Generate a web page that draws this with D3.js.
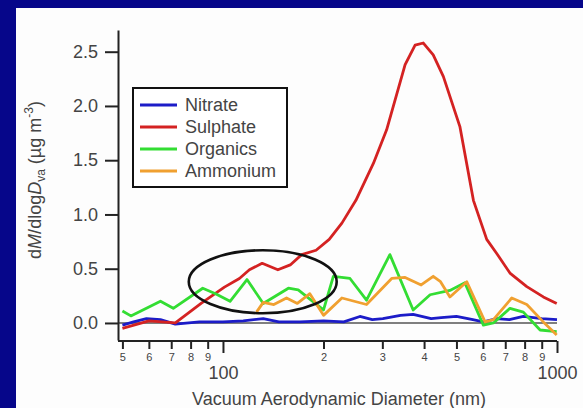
<!DOCTYPE html>
<html>
<head>
<meta charset="utf-8">
<script src="https://cdn.jsdelivr.net/npm/d3@7"></script>
<style>
  body { margin: 0; background: #fff; }
  svg { display: block; font-family: "Liberation Sans", Arial, sans-serif; }
</style>
</head>
<body>
<svg width="583" height="408"></svg>
<script>
// series: [diameter nm, dM/dlogDva]
let nitrate = [
  [50, -0.02], [54, 0.01], [59, 0.04], [65, 0.03], [72, -0.01], [85, 0.01],
  [100, 0.01], [115, 0.02], [132, 0.04], [147, 0.01], [170, 0.01], [200, 0.02],
  [230, 0.01], [257, 0.06], [280, 0.03], [301, 0.04], [340, 0.07], [371, 0.08],
  [420, 0.04], [450, 0.05], [500, 0.06], [560, 0.03], [602, 0.01], [660, 0.04],
  [720, 0.03], [793, 0.06], [900, 0.04], [1000, 0.03]
];
let sulphate = [
  [50, -0.05], [60, 0.02], [72, 0.0], [86, 0.18], [101, 0.33], [112, 0.41],
  [120, 0.49], [131, 0.55], [146, 0.49], [159, 0.535], [172, 0.63], [190, 0.67],
  [208, 0.77], [227, 0.92], [250, 1.13], [282, 1.47], [309, 1.78], [351, 2.38],
  [376, 2.56], [398, 2.58], [426, 2.47], [457, 2.27], [512, 1.81], [562, 1.13],
  [616, 0.77], [660, 0.64], [723, 0.46], [812, 0.335], [910, 0.24], [998, 0.18]
];
let organics = [
  [50, 0.11], [53, 0.065], [59, 0.135], [65, 0.2], [71, 0.135], [87, 0.32],
  [95, 0.27], [105, 0.2], [118, 0.4], [132, 0.18], [157, 0.32], [168, 0.305],
  [182, 0.22], [200, 0.12], [214, 0.43], [240, 0.41], [269, 0.21], [316, 0.63],
  [371, 0.12], [417, 0.26], [478, 0.3], [530, 0.37], [602, -0.02], [645, 0.0],
  [723, 0.135], [793, 0.1], [890, -0.065], [998, -0.08]
];
let ammonium = [
  [126, 0.1], [132, 0.19], [142, 0.17], [155, 0.23], [167, 0.18], [182, 0.27],
  [200, 0.07], [227, 0.23], [269, 0.17], [320, 0.41], [351, 0.42], [392, 0.35],
  [426, 0.43], [448, 0.38], [478, 0.24], [537, 0.38], [609, 0.01], [645, 0.03],
  [732, 0.23], [812, 0.17], [910, 0.01], [998, -0.11]
];
let seriesNames = ["Nitrate", "Sulphate", "Organics", "Ammonium"];
let seriesColors = ["#1c1cc8", "#d42222", "#33dd33", "#f0a030"];
let yTicks = [0, 0.5, 1.0, 1.5, 2.0, 2.5];
let xMajor = [100, 1000];
let xMinor = [50, 60, 70, 80, 90, 200, 300, 400, 500, 600, 700, 800, 900];
// circled region: diameter range and value range
let circleX = [79, 219];
let circleY = [0.09, 0.67];

let svg = d3.select("svg");

svg.append("rect").attr("width", 583).attr("height", 408).attr("fill", "#06068a");
svg.append("rect").attr("x", 16).attr("y", 8).attr("width", 567).attr("height", 400).attr("fill", "#fdfdfd");

let x = d3.scaleLog().domain([48.5, 1000]).range([118, 557]);
let y = d3.scaleLinear().domain([-0.157, 2.7]).range([340, 30]);

// zero line
svg.append("line")
  .attr("x1", x.range()[0]).attr("x2", x.range()[1])
  .attr("y1", y(0)).attr("y2", y(0))
  .attr("stroke", "#555").attr("stroke-width", 1.5);

// y axis
let yAxis = svg.append("g")
  .attr("transform", "translate(118,0)")
  .call(d3.axisLeft(y).tickValues(yTicks).tickFormat(d3.format(".1f"))
    .tickSize(13).tickSizeOuter(0).tickPadding(7));

// x axis, minor then major
let xMinorAxis = svg.append("g")
  .attr("transform", "translate(0,341)")
  .call(d3.axisBottom(x).tickValues(xMinor).tickFormat(d => String(d).charAt(0))
    .tickSize(8).tickSizeOuter(0).tickPadding(4));
xMinorAxis.select(".domain").remove();
xMinorAxis.selectAll("text").attr("font-size", 11);

let xAxis = svg.append("g")
  .attr("transform", "translate(0,341)")
  .call(d3.axisBottom(x).tickValues(xMajor).tickFormat(d3.format("d"))
    .tickSize(12).tickSizeOuter(0).tickPadding(13));

[yAxis, xAxis, xMinorAxis].forEach(function(g) {
  g.selectAll(".domain").attr("stroke", "#222").attr("stroke-width", 2);
  g.selectAll(".tick line").attr("stroke", "#222").attr("stroke-width", 2);
  g.selectAll("text").attr("fill", "#444").attr("font-family", null);
});
yAxis.selectAll("text").attr("font-size", 18);
xAxis.selectAll("text").attr("font-size", 18);
xAxis.select(".domain").attr("d", "M118,0H557");

// lines
let line = d3.line().x(d => x(d[0])).y(d => y(d[1]));
let allSeries = [nitrate, sulphate, organics, ammonium];
svg.append("g").selectAll("path")
  .data(allSeries)
  .enter()
  .append("path")
  .attr("d", line)
  .attr("fill", "none")
  .attr("stroke", (d, i) => seriesColors[i])
  .attr("stroke-width", 2.8)
  .attr("stroke-linejoin", "round");

// ellipse annotation
let cx = Math.sqrt(circleX[0] * circleX[1]);
svg.append("ellipse")
  .attr("cx", x(cx))
  .attr("cy", (y(circleY[0]) + y(circleY[1])) / 2)
  .attr("rx", (x(circleX[1]) - x(circleX[0])) / 2)
  .attr("ry", (y(circleY[0]) - y(circleY[1])) / 2)
  .attr("fill", "none")
  .attr("stroke", "#111")
  .attr("stroke-width", 2.6);

// legend
let legend = svg.append("g").attr("transform", "translate(133,88)");
legend.append("rect")
  .attr("width", 154).attr("height", 99)
  .attr("fill", "#fff").attr("stroke", "#111").attr("stroke-width", 2);
seriesNames.forEach(function(name, i) {
  legend.append("line")
    .attr("x1", 7).attr("x2", 44)
    .attr("y1", 17 + i * 22).attr("y2", 17 + i * 22)
    .attr("stroke", seriesColors[i]).attr("stroke-width", 3);
  legend.append("text")
    .attr("x", 52).attr("y", 17 + i * 22).attr("dy", "0.35em")
    .attr("font-size", 18).attr("fill", "#444")
    .text(name);
});

// axis titles
svg.append("text")
  .attr("x", 339).attr("y", 405)
  .attr("text-anchor", "middle").attr("font-size", 18).attr("fill", "#444")
  .text("Vacuum Aerodynamic Diameter (nm)");

let yt = svg.append("text")
  .attr("transform", "translate(41,180) rotate(-90)")
  .attr("text-anchor", "middle").attr("font-size", 18).attr("fill", "#444");
yt.append("tspan").text("d");
yt.append("tspan").attr("font-style", "italic").text("M");
yt.append("tspan").text("/dlog");
yt.append("tspan").attr("font-style", "italic").text("D");
yt.append("tspan").attr("font-size", 12).attr("dy", 4).text("va");
yt.append("tspan").attr("dy", -4).text(" (µg m");
yt.append("tspan").attr("font-size", 12).attr("dy", -8).text("-3");
yt.append("tspan").attr("dy", 8).text(")");
</script>
</body>
</html>
